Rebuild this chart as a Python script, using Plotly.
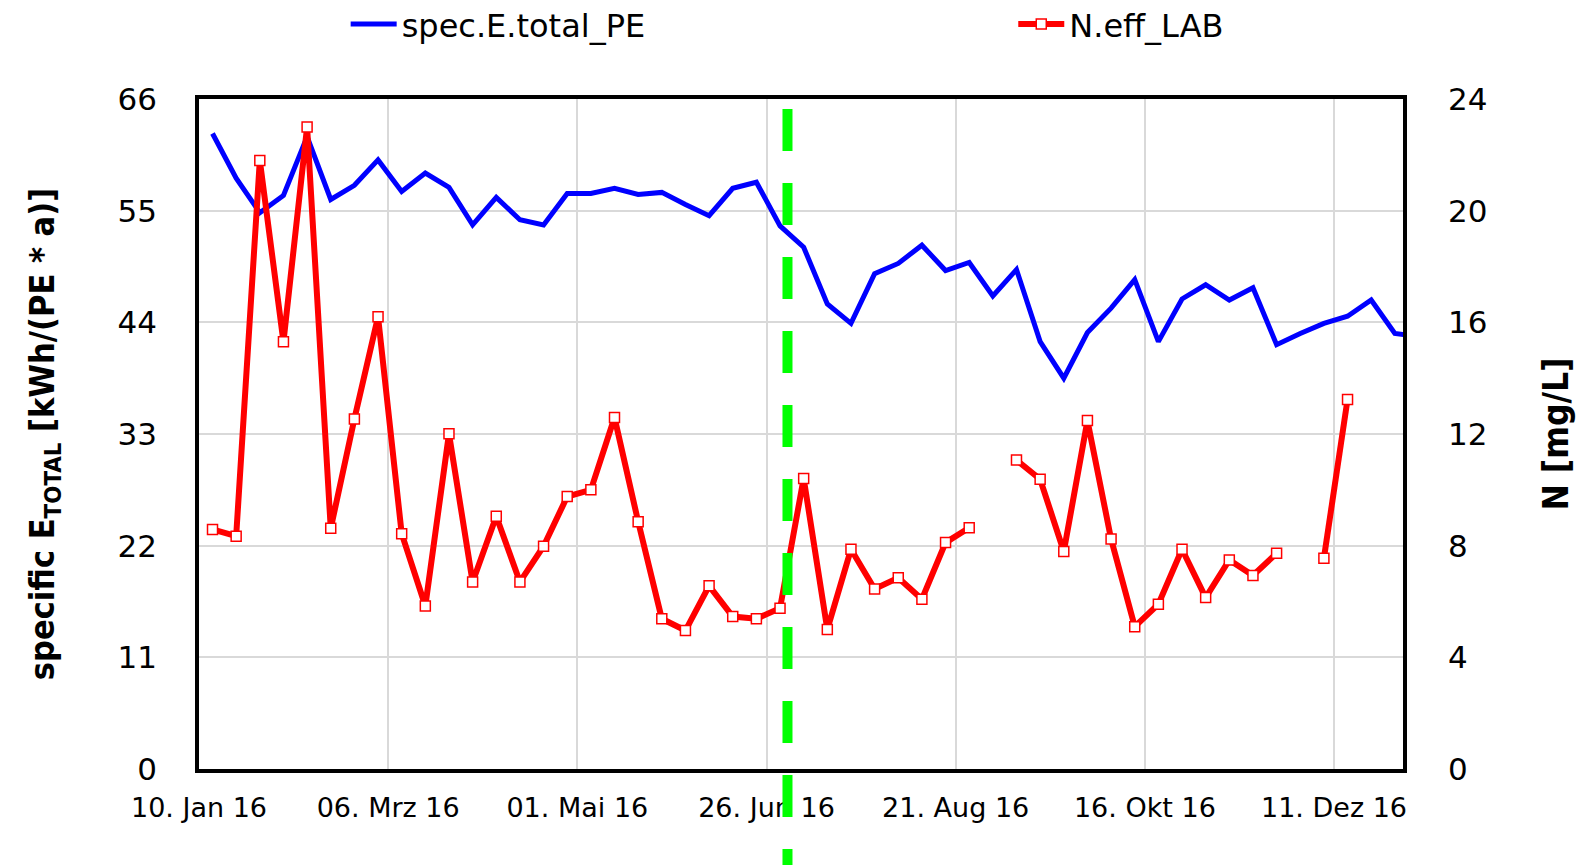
import plotly.graph_objects as go

# ---------------- data ----------------
dates = [
    "2016-01-14", "2016-01-21", "2016-01-28", "2016-02-04", "2016-02-11", "2016-02-18",
    "2016-02-25", "2016-03-03", "2016-03-10", "2016-03-17", "2016-03-24", "2016-03-31",
    "2016-04-07", "2016-04-14", "2016-04-21", "2016-04-28", "2016-05-05", "2016-05-12",
    "2016-05-19", "2016-05-26", "2016-06-02", "2016-06-09", "2016-06-16", "2016-06-23",
    "2016-06-30", "2016-07-07", "2016-07-14", "2016-07-21", "2016-07-28", "2016-08-04",
    "2016-08-11", "2016-08-18", "2016-08-25", "2016-09-01", "2016-09-08", "2016-09-15",
    "2016-09-22", "2016-09-29", "2016-10-06", "2016-10-13", "2016-10-20", "2016-10-27",
    "2016-11-03", "2016-11-10", "2016-11-17", "2016-11-24", "2016-12-01", "2016-12-08",
    "2016-12-15", "2016-12-22", "2016-12-29", "2017-01-05",
]

spec_e_total_pe = [
    62.6, 58.2, 54.8, 56.5, 62.3, 56.1, 57.5, 60.0, 56.9, 58.7, 57.3, 53.6,
    56.3, 54.1, 53.6, 56.7, 56.7, 57.2, 56.6, 56.8, 55.6, 54.5, 57.2, 57.8,
    53.5, 51.4, 45.8, 43.9, 48.8, 49.8, 51.6, 49.1, 49.9, 46.6, 49.2, 42.1,
    38.5, 43.0, 45.4, 48.2, 42.1, 46.3, 47.7, 46.2, 47.4, 41.8, 42.9, 43.9,
    44.6, 46.2, 42.9, 42.6,
]

n_eff_lab = [
    8.58, 8.34, 21.8, 15.3, 23.0, 8.62, 12.54, 16.2, 8.43, 5.84, 12.01, 6.70,
    9.05, 6.70, 7.98, 9.76, 10.0, 12.59, 8.86, 5.38, 4.96, 6.56, 5.46, 5.38,
    5.76, 10.41, 5.0, 7.87, 6.45, 6.85, 6.08, 8.11, 8.64, None, 11.07, 10.38,
    7.79, 12.48, 8.24, 5.10, 5.90, 7.87, 6.14, 7.49, 6.93, 7.73, None, 7.55,
    13.24, None, None, None,
]

x_tick_vals = ["2016-01-10", "2016-03-06", "2016-05-01", "2016-06-26",
               "2016-08-21", "2016-10-16", "2016-12-11"]
x_tick_text = ["10. Jan 16", "06. Mrz 16", "01. Mai 16", "26. Jun 16",
               "21. Aug 16", "16. Okt 16", "11. Dez 16"]

left_ticks = [0, 11, 22, 33, 44, 55, 66]
right_ticks = [0, 4, 8, 12, 16, 20, 24]

x_range = ["2016-01-10", "2016-12-31 10:00"]
marker_date = "2016-07-02 05:00"

# ---------------- figure ----------------
fig = go.Figure()

fig.add_trace(go.Scatter(
    x=dates, y=spec_e_total_pe, name="spec.E.total_PE",
    mode="lines", line=dict(color="#0000FF", width=5),
    yaxis="y", legend="legend",
))

fig.add_trace(go.Scatter(
    x=dates, y=n_eff_lab, name="N.eff_LAB",
    mode="lines+markers", connectgaps=False,
    line=dict(color="#FF0000", width=6),
    marker=dict(symbol="square", size=10, color="white",
                line=dict(color="#FF0000", width=1.5)),
    yaxis="y2", legend="legend2",
))

fig.add_shape(
    type="line", xref="x", yref="paper",
    x0=marker_date, x1=marker_date, y0=0.985, y1=-0.16,
    line=dict(color="#00FF00", width=10, dash="42px,32px"),
    layer="above",
)

tick_font = dict(family="DejaVu Sans", size=31, color="black")
legend_font = dict(family="DejaVu Sans", size=32, color="black")
title_family = "Liberation Sans Narrow, DejaVu Sans Condensed, DejaVu Sans, sans-serif"

fig.update_layout(
    width=1582, height=865,
    margin=dict(l=199, r=179, t=99, b=96, autoexpand=False),
    paper_bgcolor="white", plot_bgcolor="white",
    showlegend=True,
    legend=dict(
        orientation="h", xref="container", yref="container",
        x=0.2185, xanchor="left", y=0.972, yanchor="middle",
        itemwidth=46, font=legend_font, bgcolor="rgba(0,0,0,0)",
    ),
    legend2=dict(
        orientation="h", xref="container", yref="container",
        x=0.6405, xanchor="left", y=0.972, yanchor="middle",
        itemwidth=46, font=legend_font, bgcolor="rgba(0,0,0,0)",
    ),
    xaxis=dict(
        type="date", range=x_range, automargin=False,
        tickmode="array", tickvals=x_tick_vals, ticktext=x_tick_text,
        tickfont=dict(family="DejaVu Sans", size=27, color="black"),
        ticklabelstandoff=12,
        showgrid=True, gridcolor="#d9d9d9", gridwidth=1.5,
        showline=True, linecolor="black", linewidth=3.5, mirror=True,
        ticks="", zeroline=False,
    ),
    yaxis=dict(
        range=[0, 66], tickmode="array", tickvals=left_ticks, automargin=False,
        tickfont=tick_font, ticklabelstandoff=32,
        showgrid=True, gridcolor="#d9d9d9", gridwidth=1.5,
        showline=True, linecolor="black", linewidth=3.5, mirror=True,
        ticks="", zeroline=False,
        title=dict(
            text="specific E<sub>TOTAL</sub> [kWh/(PE * a)]",
            font=dict(family=title_family, size=34, color="black", weight="bold"),
            standoff=54,
        ),
    ),
    yaxis2=dict(
        range=[0, 24], tickmode="array", tickvals=right_ticks, automargin=False,
        overlaying="y", side="right",
        tickfont=tick_font, ticklabelstandoff=44,
        showgrid=False, showline=False, ticks="", zeroline=False,
        title=dict(
            text="N [mg/L]",
            font=dict(family=title_family, size=35, color="black", weight="bold"),
            standoff=57,
        ),
    ),
)

fig.write_html("out.html", config={"displayModeBar": False},
               post_script="document.body.style.margin='0';")
